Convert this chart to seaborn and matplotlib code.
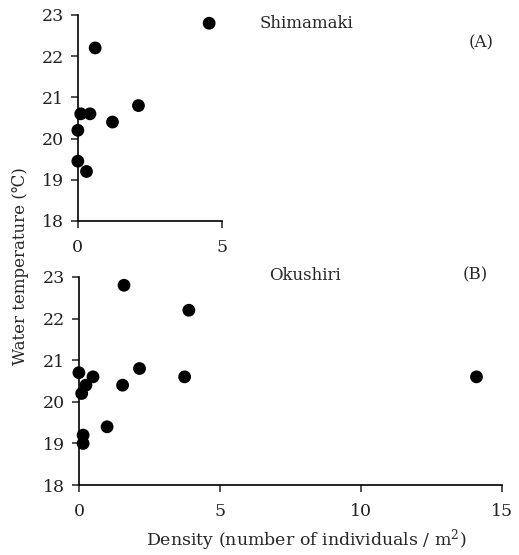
import matplotlib
matplotlib.use("Agg")
import matplotlib.pyplot as plt
import seaborn as sns
import pandas as pd

# Shimamaki (A)
shima_density = [4.55, 0.6, 0.1, 0.42, 1.2, 2.1, 0.0, 0.0, 0.3]
shima_temp = [22.8, 22.2, 20.6, 20.6, 20.4, 20.8, 20.2, 19.45, 19.2]

# Okushiri (B)
oku_density = [1.6, 3.9, 0.0, 0.5, 0.25, 0.1, 2.15, 1.55, 3.75, 1.0, 0.15, 0.15, 14.1]
oku_temp = [22.8, 22.2, 20.7, 20.6, 20.4, 20.2, 20.8, 20.4, 20.6, 19.4, 19.2, 19.0, 20.6]

y_ticks = [18, 19, 20, 21, 22, 23]
x_ticks_a = [0, 5]
x_ticks_b = [0, 5, 10, 15]

sns.set_style("ticks")
plt.rcParams["font.family"] = ["DejaVu Serif"]
plt.rcParams["mathtext.fontset"] = "dejavuserif"

fig = plt.figure(figsize=(5.19, 5.55), dpi=100)
ax_a = fig.add_axes([0.150, 0.602, 0.278, 0.371])
ax_b = fig.add_axes([0.152, 0.126, 0.815, 0.375])

df_a = pd.DataFrame({"density": shima_density, "temp": shima_temp})
df_b = pd.DataFrame({"density": oku_density, "temp": oku_temp})

for ax, df, xt, xmax in [(ax_a, df_a, x_ticks_a, 5), (ax_b, df_b, x_ticks_b, 15)]:
    sns.scatterplot(data=df, x="density", y="temp", ax=ax, color="black",
                    s=85, edgecolor="none", clip_on=False, zorder=3)
    ax.set_xlim(0, xmax)
    ax.set_ylim(18, 23)
    ax.set_xticks(xt)
    ax.set_yticks(y_ticks)
    ax.set_xlabel("")
    ax.set_ylabel("")
    sns.despine(ax=ax)
    for sp in ("left", "bottom"):
        ax.spines[sp].set_linewidth(1.2)
        ax.spines[sp].set_color("black")
    ax.tick_params(direction="out", length=5, width=1.1, colors="#222222",
                   labelsize=12.5, pad=5)
    ax.patch.set_alpha(0)

ax_a.tick_params(axis="x", pad=8)
ax_b.tick_params(axis="x", pad=8)

fig.text(0.501, 0.957, "Shimamaki", fontsize=12, ha="left", va="center")
fig.text(0.902, 0.922, "(A)", fontsize=12, ha="left", va="center")
fig.text(0.519, 0.504, "Okushiri", fontsize=12, ha="left", va="center")
fig.text(0.892, 0.504, "(B)", fontsize=12, ha="left", va="center")

fig.text(0.040, 0.52, "Water temperature (℃)", fontsize=12, rotation=90,
         ha="center", va="center")
fig.text(0.59, 0.027, "Density (number of individuals / m$^2$)", fontsize=12.5,
         ha="center", va="center")

fig.savefig("out.png", dpi=100)
